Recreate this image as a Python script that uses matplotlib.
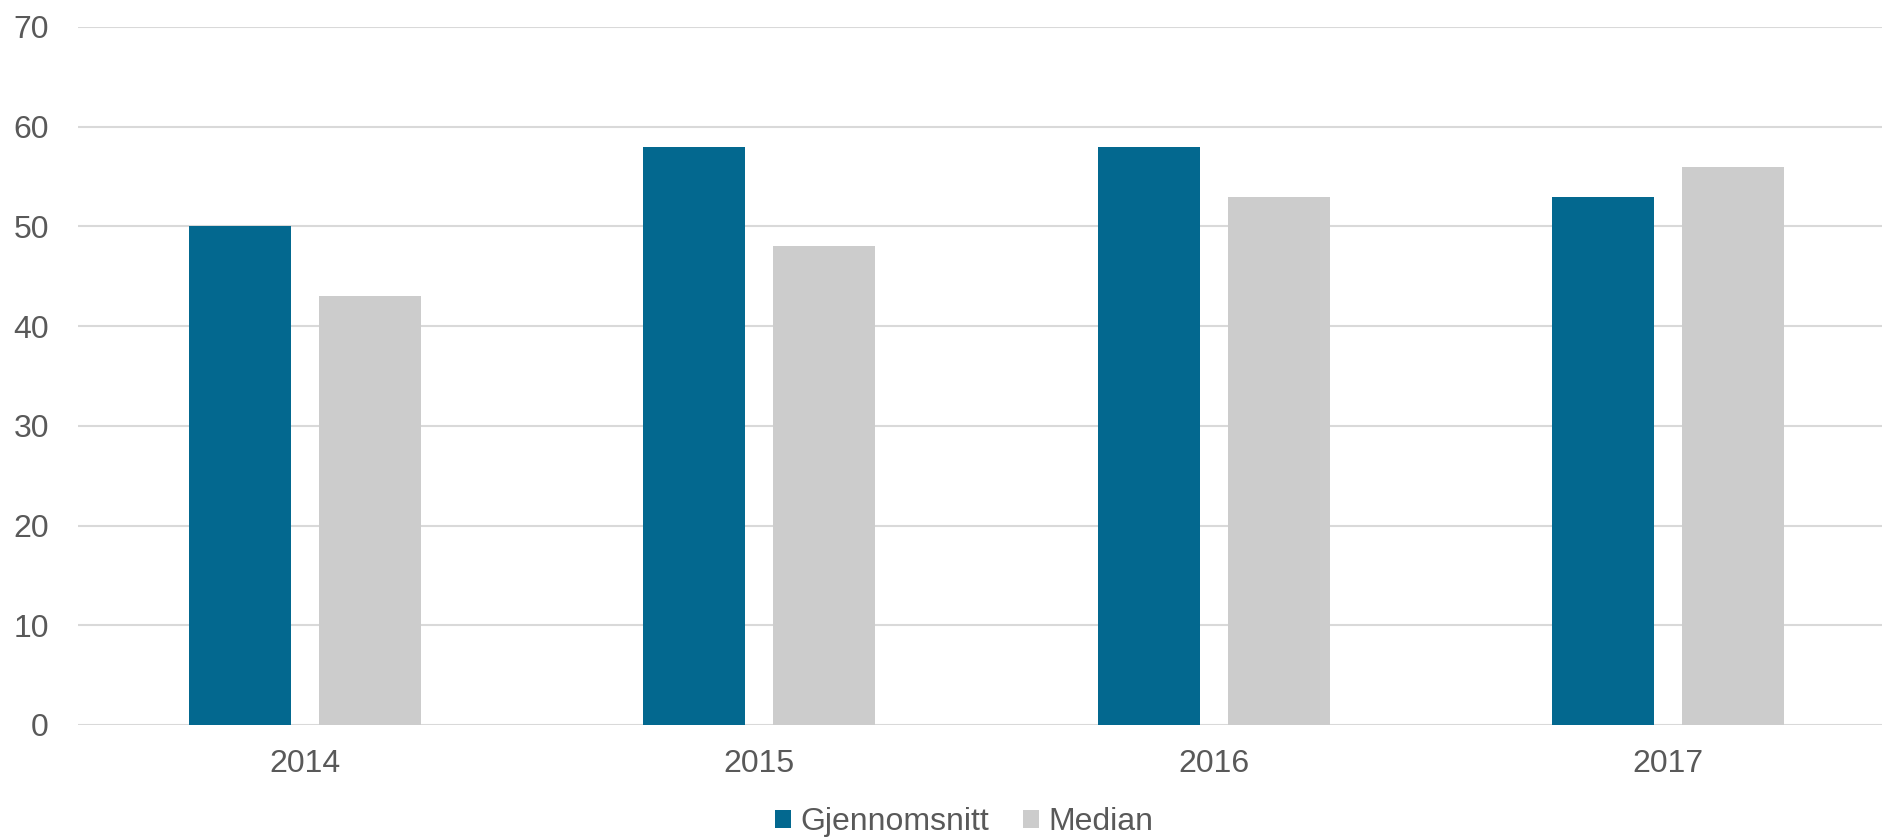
import numpy as np
import matplotlib
matplotlib.use("Agg")
import matplotlib.pyplot as plt

years = ["2014", "2015", "2016", "2017"]
gjennomsnitt = [50, 58, 58, 53]
median = [43, 48, 53, 56]

blue = "#03688F"
grey = "#CCCCCC"
text_col = "#595959"
grid_col = "#D9D9D9"

plt.rcParams["font.family"] = ["Liberation Sans", "DejaVu Sans"]

fig = plt.figure(figsize=(18.83, 8.4), dpi=100)
# plot area runs slightly past the right edge of the figure
ax = fig.add_axes([78 / 1883, 1 - 725 / 840, 1817 / 1883, (725 - 27) / 840])

x = np.arange(len(years))
width = 0.2245
offset = 0.143
ax.bar(x - offset, gjennomsnitt, width, color=blue, label="Gjennomsnitt", zorder=3)
ax.bar(x + offset, median, width, color=grey, label="Median", zorder=3)

ax.set_xlim(-0.5, len(years) - 0.5)
ax.set_ylim(0, 70)
ax.set_yticks(np.arange(0, 71, 10))
ax.set_xticks(x)
ax.set_xticklabels(years)

ax.grid(axis="y", color=grid_col, linewidth=1.5, zorder=0)
for s in ax.spines.values():
    s.set_visible(False)
ax.tick_params(axis="both", length=0, labelsize=23, colors=text_col)
ax.tick_params(axis="y", pad=21)
ax.tick_params(axis="x", pad=17)

fig.legend(loc="center", bbox_to_anchor=(964 / 1883, 1 - 822 / 840), ncol=2,
           frameon=False, fontsize=23, labelcolor=text_col,
           handlelength=0.5, handleheight=0.5, handletextpad=0.3,
           columnspacing=1.05, borderpad=0)

fig.savefig("out.png", dpi=100)
